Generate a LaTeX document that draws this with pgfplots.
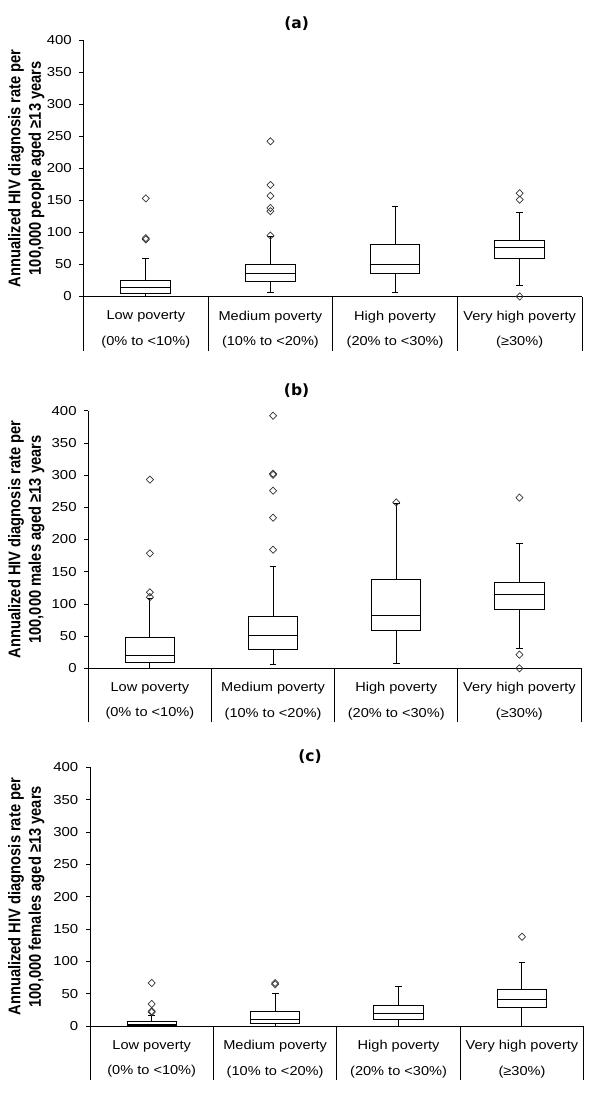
\documentclass[border=0pt]{standalone}
\usepackage{pgfplots}
\pgfplotsset{compat=1.18}
\usepgfplotslibrary{statistics}
\usepackage{graphicx}
\usepackage{fontspec}
\setmainfont{Liberation Sans}
\newfontfamily\tickfont[FakeStretch=1.15]{Liberation Sans}
\newfontfamily\catfont[FakeStretch=1.13]{Liberation Sans}
\newfontfamily\titlefont{DejaVu Sans}

\newcommand\ylab[1]{\scalebox{1}[1.15]{\begin{tabular}{@{}c@{}}Annualized HIV  diagnosis rate per\\100,000 #1 aged ≥13 years\end{tabular}}}

% categories are placed at x = 100, 200, 300, 400
\pgfplotsset{
  povaxis/.style={
    scale only axis, anchor=south west,
    xmin=50, xmax=450, ymin=0, ymax=400,
    axis x line=bottom, axis y line=left,
    axis line style={-, line width=0.8pt, black},
    tick align=outside, major tick length=4pt,
    ytick={0,50,...,400},
    /pgf/number format/assume math mode=true,
    yticklabel style={font=\tickfont\fontsize{13}{13}\selectfont, inner sep=0pt, xshift=-7.5pt},
    xtick={100,200,300,400},
    xtick style={draw=none},
    ytick style={black, line width=0.8pt},
    xticklabels={{Low poverty\\(0\% to <10\%)},{Medium poverty\\(10\% to <20\%)},{High poverty\\(20\% to <30\%)},{Very high poverty\\(≥30\%)}},
    xticklabel style={font=\catfont\fontsize{12.9}{25.5}\selectfont, align=center, anchor=north, inner sep=0pt, yshift=-10pt},
    extra x ticks={50,150,250,350,450},
    extra x tick labels={},
    extra x tick style={major tick length=54pt, xtick style={draw=black, line width=0.8pt}},
    title style={font=\titlefont\bfseries\fontsize{15.5}{16}\selectfont, anchor=center},
    ylabel style={font=\bfseries\fontsize{14.7}{17.8}\selectfont, anchor=center},
    clip=false,
  },
  pbox/.style={black, line width=1pt, mark=diamond, mark size=3.6pt,
     mark options={solid, draw=black!80, line width=0.7pt, xscale=1.3, fill=none}},
  boxplot/draw direction=y,
  boxplot/box extend=40,
  boxplot/whisker extend=5.5,
}

\begin{document}
\begin{tikzpicture}
\path[use as bounding box] (0,0) rectangle (595pt,-1102pt);

% ---------------- (a) ----------------
\begin{axis}[povaxis, at={(83.5pt,-296.5pt)}, width=498.5pt, height=256.5pt,
  title={(a)}, title style={at={(axis description cs:0.4275,1)}, yshift=10.2pt},
  ylabel={\ylab{people}}, ylabel style={at={(axis description cs:-0.1143,0.5)}}]
\addplot[pbox, boxplot prepared={draw position=100, lower whisker=0, lower quartile=4.2, median=13.5, upper quartile=25.7, upper whisker=59.5}]
  table[row sep=\\, y index=0] {y\\ 89\\ 91\\ 153\\};
\addplot[pbox, boxplot prepared={draw position=200, lower whisker=5.6, lower quartile=22.8, median=35.5, upper quartile=50.4, upper whisker=93}]
  table[row sep=\\, y index=0] {y\\ 95\\ 133\\ 138\\ 157\\ 174\\ 242\\};
\addplot[pbox, boxplot prepared={draw position=300, lower whisker=5.6, lower quartile=35.3, median=50.6, upper quartile=81.5, upper whisker=140.5}]
  coordinates {};
\addplot[pbox, boxplot prepared={draw position=400, lower whisker=16.6, lower quartile=60, median=75.7, upper quartile=88, upper whisker=131.5}]
  table[row sep=\\, y index=0] {y\\ 0\\ 151\\ 161\\};
\end{axis}

% ---------------- (b) ----------------
\begin{axis}[povaxis, at={(88.3pt,-668.3pt)}, width=492.7pt, height=257.6pt,
  title={(b)}, title style={at={(axis description cs:0.4228,1)}, yshift=13.6pt},
  ylabel={\ylab{males}}, ylabel style={at={(axis description cs:-0.1254,0.5)}}]
\addplot[pbox, boxplot prepared={draw position=100, lower whisker=0, lower quartile=9.3, median=19.9, upper quartile=48.1, upper whisker=108}]
  table[row sep=\\, y index=0] {y\\ 110.5\\ 118\\ 178.5\\ 293\\};
\addplot[pbox, boxplot prepared={draw position=200, lower whisker=6.2, lower quartile=29.5, median=51.2, upper quartile=80.7, upper whisker=157.8}]
  table[row sep=\\, y index=0] {y\\ 184.2\\ 233.9\\ 275.8\\ 300.5\\ 302.2\\ 392.2\\};
\addplot[pbox, boxplot prepared={draw position=300, lower whisker=7.8, lower quartile=59, median=82.3, upper quartile=138.2, upper whisker=256}]
  table[row sep=\\, y index=0] {y\\ 257.7\\};
\addplot[pbox, boxplot prepared={draw position=400, lower whisker=31, lower quartile=91.6, median=114.9, upper quartile=133.5, upper whisker=194}]
  table[row sep=\\, y index=0] {y\\ 0\\ 21.2\\ 265\\};
\end{axis}

% ---------------- (c) ----------------
\begin{axis}[povaxis, at={(90pt,-1026pt)}, width=493.7pt, height=258.7pt,
  title={(c)}, title style={at={(axis description cs:0.4456,1)}, yshift=4.8pt},
  ylabel={\ylab{females}}, ylabel style={at={(axis description cs:-0.1286,0.5)}}]
\addplot[pbox, boxplot prepared={draw position=100, lower whisker=0, lower quartile=1, median=2.5, upper quartile=7.5, upper whisker=17}]
  table[row sep=\\, y index=0] {y\\ 21.5\\ 23\\ 34\\ 66.5\\};
\addplot[pbox, boxplot prepared={draw position=200, lower whisker=0, lower quartile=4.5, median=10.5, upper quartile=22.5, upper whisker=50}]
  table[row sep=\\, y index=0] {y\\ 64.5\\ 66.5\\};
\addplot[pbox, boxplot prepared={draw position=300, lower whisker=0, lower quartile=10.2, median=19.4, upper quartile=31.7, upper whisker=60.9}]
  coordinates {};
\addplot[pbox, boxplot prepared={draw position=400, lower whisker=0, lower quartile=28.6, median=40.9, upper quartile=56.3, upper whisker=97.7}]
  table[row sep=\\, y index=0] {y\\ 138\\};
\end{axis}
\end{tikzpicture}
\end{document}
